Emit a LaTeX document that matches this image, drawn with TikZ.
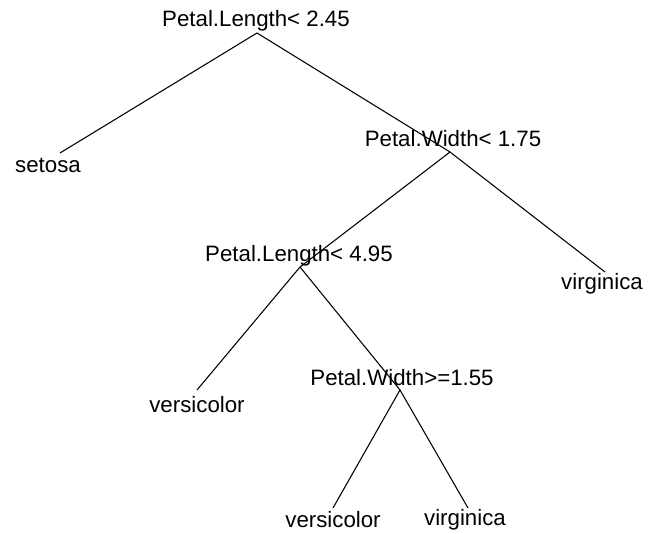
\documentclass[tikz,border=0pt]{standalone}
\usepackage{fontspec}
\setmainfont{Liberation Sans}

\tikzstyle{split}=[anchor=base, inner sep=0pt]
\tikzstyle{leaf}=[anchor=base, inner sep=0pt]
\tikzstyle{branch}=[line width=0.8pt]

\begin{document}
\begin{tikzpicture}[x=0.75pt, y=-0.75pt, font=\fontsize{16.7}{20}\selectfont]
\useasboundingbox (0,0) rectangle (659,534);
% split points
\coordinate (n1) at (257,33);
\coordinate (n2) at (60,153);
\coordinate (n3) at (450,152);
\coordinate (n6) at (300,267);
\coordinate (n7) at (605,272);
\coordinate (n12) at (197,390);
\coordinate (n13) at (400,390);
\coordinate (n26) at (333,508);
\coordinate (n27) at (468,508);
% branches
\draw [branch] (n2) -- (n1) -- (n3) -- (n7);
\draw [branch] (n3) -- (n6) -- (n12);
\draw [branch] (n6) -- (n13) -- (n26);
\draw [branch] (n13) -- (n27);
% labels
\node [split] (l1) at (256,27) {Petal.Length< 2.45};
\node [split] (l3) at (453,147) {Petal.Width< 1.75};
\node [split] (l6) at (299,262) {Petal.Length< 4.95};
\node [split] (l13) at (402,385) {Petal.Width>=1.55};
\node [leaf] (l2) at (48,173) {setosa};
\node [leaf] (l7) at (602,289) {virginica};
\node [leaf] (l12) at (197,412) {versicolor};
\node [leaf] (l26) at (333,527) {versicolor};
\node [leaf] (l27) at (465,525) {virginica};
\end{tikzpicture}
\end{document}
